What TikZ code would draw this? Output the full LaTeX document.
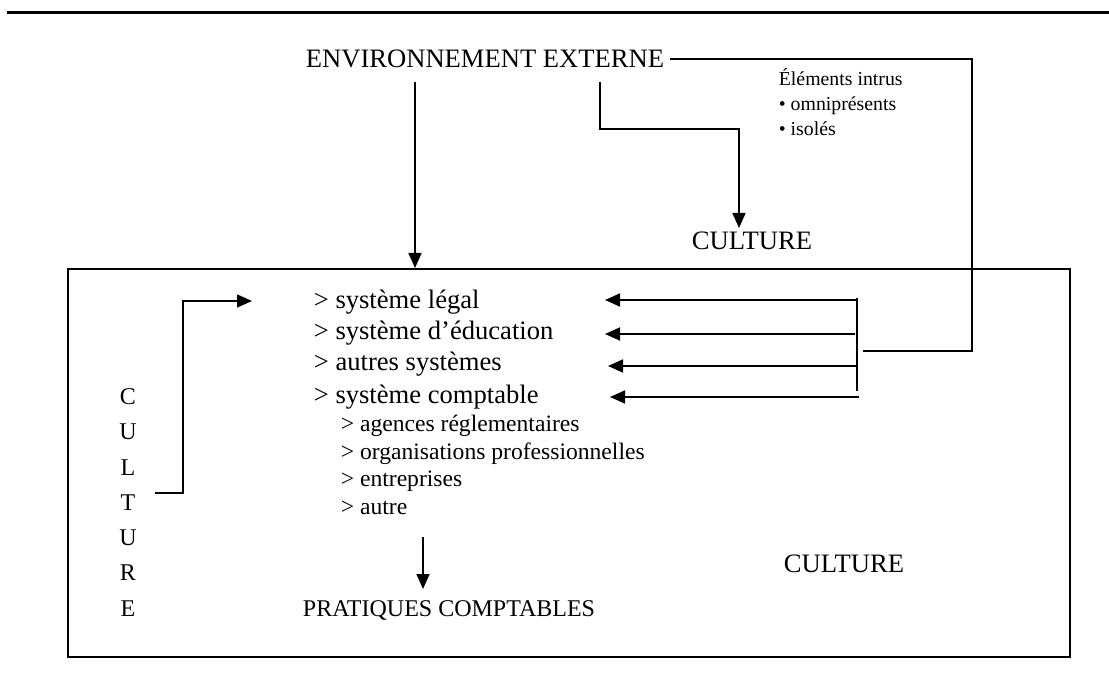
\documentclass[tikz,border=0pt]{standalone}
\usepackage{fontspec}
\setmainfont{Liberation Serif}
\usetikzlibrary{arrows.meta}
\begin{document}
\begin{tikzpicture}[x=1pt,y=-1pt,
  line width=1.7pt,
  arr/.style={-{Triangle[length=15pt,width=13pt]}},
  big/.style={font=\fontsize{26.6}{30}\selectfont, inner sep=0pt},
  sub/.style={font=\fontsize{23.6}{27}\selectfont, inner sep=0pt, anchor=west},
  small/.style={font=\fontsize{19.8}{23}\selectfont, inner sep=0pt, anchor=base west},
  letter/.style={font=\fontsize{24}{28}\selectfont, inner sep=0pt},
]
\useasboundingbox (0,0) rectangle (1109,679);

% rule and frame
\draw[line width=3pt] (7,13) -- (1109,13);
\draw (68,269) rectangle (1070,657);

% titles
\node[big, anchor=west] (env) at (305,59) {ENVIRONNEMENT EXTERNE};
\node[big] (cultTop) at (752,241) {CULTURE};
\node[big] (cultRight) at (844,564) {CULTURE};
\node[font=\fontsize{24}{28}\selectfont, inner sep=0pt] (prat) at (449,610) {PRATIQUES COMPTABLES};

% intrusive elements
\node[small] (intr) at (778,86) {Éléments intrus};
\node[small] (omni) at (778,111) {• omniprésents};
\node[small] (iso)  at (778,136) {• isolés};

% vertical word
\foreach \l [count=\i from 0] in {C,U,L,T,U,R,E}
  \node[letter] (v\i) at (128,{397+35.2*\i}) {\l};

% systems
\node[big, anchor=west] (s1) at (313,302) {> système légal};
\node[big, anchor=west] (s2) at (313,333) {> système d’éducation};
\node[big, anchor=west] (s3) at (313,364) {> autres systèmes};
\node[big, anchor=west] (s4) at (313,397) {> système comptable};
\node[sub] (a1) at (340,426) {> agences réglementaires};
\node[sub] (a2) at (340,454) {> organisations professionnelles};
\node[sub] (a3) at (340,481) {> entreprises};
\node[sub] (a4) at (340,508) {> autre};

% junction points
\coordinate (eR) at (972,59);
\coordinate (eJ) at (972,351);
\coordinate (bJ) at (863,351);
\coordinate (barT) at (857,298);
\coordinate (barB) at (857,391);
\coordinate (d1s) at (415,82);
\coordinate (d1e) at (415,268);
\coordinate (d2s) at (600,82);
\coordinate (d2m) at (739,129);
\coordinate (d2e) at (739,228);
\coordinate (lS) at (155,493);
\coordinate (lC) at (183,493);
\coordinate (lE) at (252,301);
\coordinate (pS) at (423,537);
\coordinate (pE) at (423,589);

% connectors from the external environment
\draw ([xshift=5pt]env.east) -- (eR) -- (eJ) -- (bJ);
\draw[arr] (d1s) -- (d1e);
\draw[arr] (d2s) |- (d2m) -- (d2e);

% feedback bar and arrows to the systems
\draw (barT) -- (barB);
\draw[arr] (857,300) -- (605,300);
\draw[arr] (855,334) -- (605,334);
\draw[arr] (857,366) -- (608,366);
\draw[arr] (859,397) -- (610,397);

% culture bracket
\draw[arr] (lS) -- (lC) |- (lE);

% to accounting practices
\draw[arr] (pS) -- (pE);
\end{tikzpicture}
\end{document}
